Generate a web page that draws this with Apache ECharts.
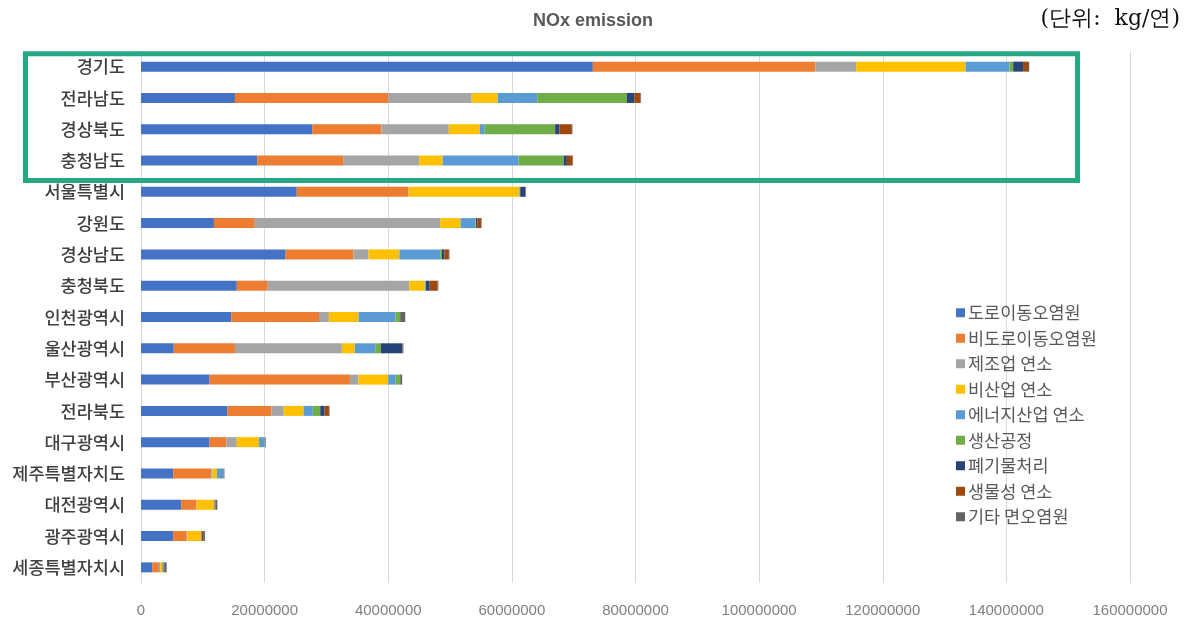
<!DOCTYPE html>
<html>
<head>
<meta charset="utf-8">
<script src="https://cdn.jsdelivr.net/npm/echarts@6/dist/echarts.min.js"></script>
<style>
html,body{margin:0;padding:0;background:#fff;}
#main{width:1186px;height:629px;}
</style>
</head>
<body>
<div id="main"></div>
<script>
const categories = ['경기도','전라남도','경상북도','충청남도','서울특별시','강원도','경상남도','충청북도','인천광역시','울산광역시','부산광역시','전라북도','대구광역시','제주특별자치도','대전광역시','광주광역시','세종특별자치시'];
const seriesNames = ['도로이동오염원','비도로이동오염원','제조업 연소','비산업 연소','에너지산업 연소','생산공정','폐기물처리','생물성 연소','기타 면오염원'];
const road      = [73100000,15200000,27700000,18800000,25200000,11800000,23400000,15500000,14600000,5300000,11100000,14000000,11100000,5200000,6500000,5200000,1800000];
const nonRoad   = [36000000,24800000,11200000,13900000,18000000,6600000,11000000,5000000,14200000,9900000,22700000,7100000,2700000,6200000,2400000,2200000,1100000];
const manuf     = [6600000,13500000,10900000,12300000,100000,30000000,2400000,22900000,1600000,17300000,1400000,2000000,1700000,200000,100000,100000,200000];
const nonInd    = [17700000,4200000,5000000,3800000,17900000,3300000,5000000,2500000,4800000,2100000,4800000,3200000,3600000,700000,2800000,2200000,300000];
const energy    = [7100000,6400000,800000,12300000,100000,2400000,6600000,100000,6000000,3300000,1200000,1500000,900000,1000000,50000,50000,100000];
const process   = [600000,14500000,11400000,7300000,50000,100000,300000,100000,700000,900000,700000,1200000,50000,50000,50000,50000,100000];
const waste     = [1600000,1200000,700000,500000,800000,200000,400000,600000,100000,3500000,100000,700000,50000,50000,50000,50000,50000];
const biomass   = [800000,1000000,2000000,900000,50000,600000,700000,1300000,50000,50000,50000,700000,50000,50000,100000,200000,100000];
const other     = [200000,100000,100000,100000,100000,100000,100000,100000,700000,100000,200000,100000,50000,50000,300000,300000,400000];
const seriesData = [road, nonRoad, manuf, nonInd, energy, process, waste, biomass, other];
const colors = ['#4472C4','#ED7D31','#A5A5A5','#FFC000','#5B9BD5','#70AD47','#264478','#9E480E','#636363'];
const xTicks = {min:0, max:160000000, interval:20000000};

const chart = echarts.init(document.getElementById('main'));
const labelFont = '"Noto Sans CJK KR","Noto Sans",sans-serif';
const latin = '"Liberation Sans","DejaVu Sans",sans-serif';
chart.setOption({
  animation:false,
  color: colors,
  title:{
    text:'NOx emission', left:'center', top:7,
    textStyle:{fontSize:18, fontWeight:'bold', color:'#595959', fontFamily:latin}
  },
  legend:{
    orient:'vertical', left:951, top:299, itemWidth:9, itemHeight:9, itemGap:8,
    icon:'rect', data: seriesNames,
    textStyle:{fontSize:17.5, color:'#595959', fontFamily:labelFont, padding:[0,0,0,-2]}
  },
  grid:{left:141, right:56, top:51, bottom:46, containLabel:false},
  xAxis:{
    type:'value', min:xTicks.min, max:xTicks.max, interval:xTicks.interval,
    axisLine:{show:false}, axisTick:{show:false},
    splitLine:{show:true, lineStyle:{color:'#D9D9D9', width:1}},
    axisLabel:{fontSize:15, color:'#7F7F7F', margin:20, fontFamily:latin, formatter:v=>String(v)}
  },
  yAxis:{
    type:'category', data:categories, inverse:true,
    axisLine:{show:false}, axisTick:{show:false},
    axisLabel:{fontSize:17.5, color:'#404040', margin:16, fontFamily:labelFont, fontWeight:500}
  },
  series: seriesNames.map((n,i)=>({
    name:n, type:'bar', stack:'total', barWidth:10, data:seriesData[i],
    itemStyle:{color:colors[i]}
  }))
});

// annotation box around top four categories
const yTop = chart.convertToPixel({yAxisIndex:0}, categories[0]);
const yBot = chart.convertToPixel({yAxisIndex:0}, categories[3]);
chart.setOption({
  graphic:[
    {type:'rect', shape:{x:25.5, y:yTop-13, width:1052, height:(yBot-yTop)+33}, style:{fill:'none', stroke:'#26A884', lineWidth:5}, z:100},
    {type:'text', right:6, top:8, style:{text:'(단위:  kg/연)', font:'22px "DejaVu Serif","Liberation Serif",serif', fill:'#111'}, z:100}
  ]
});
</script>
</body>
</html>
